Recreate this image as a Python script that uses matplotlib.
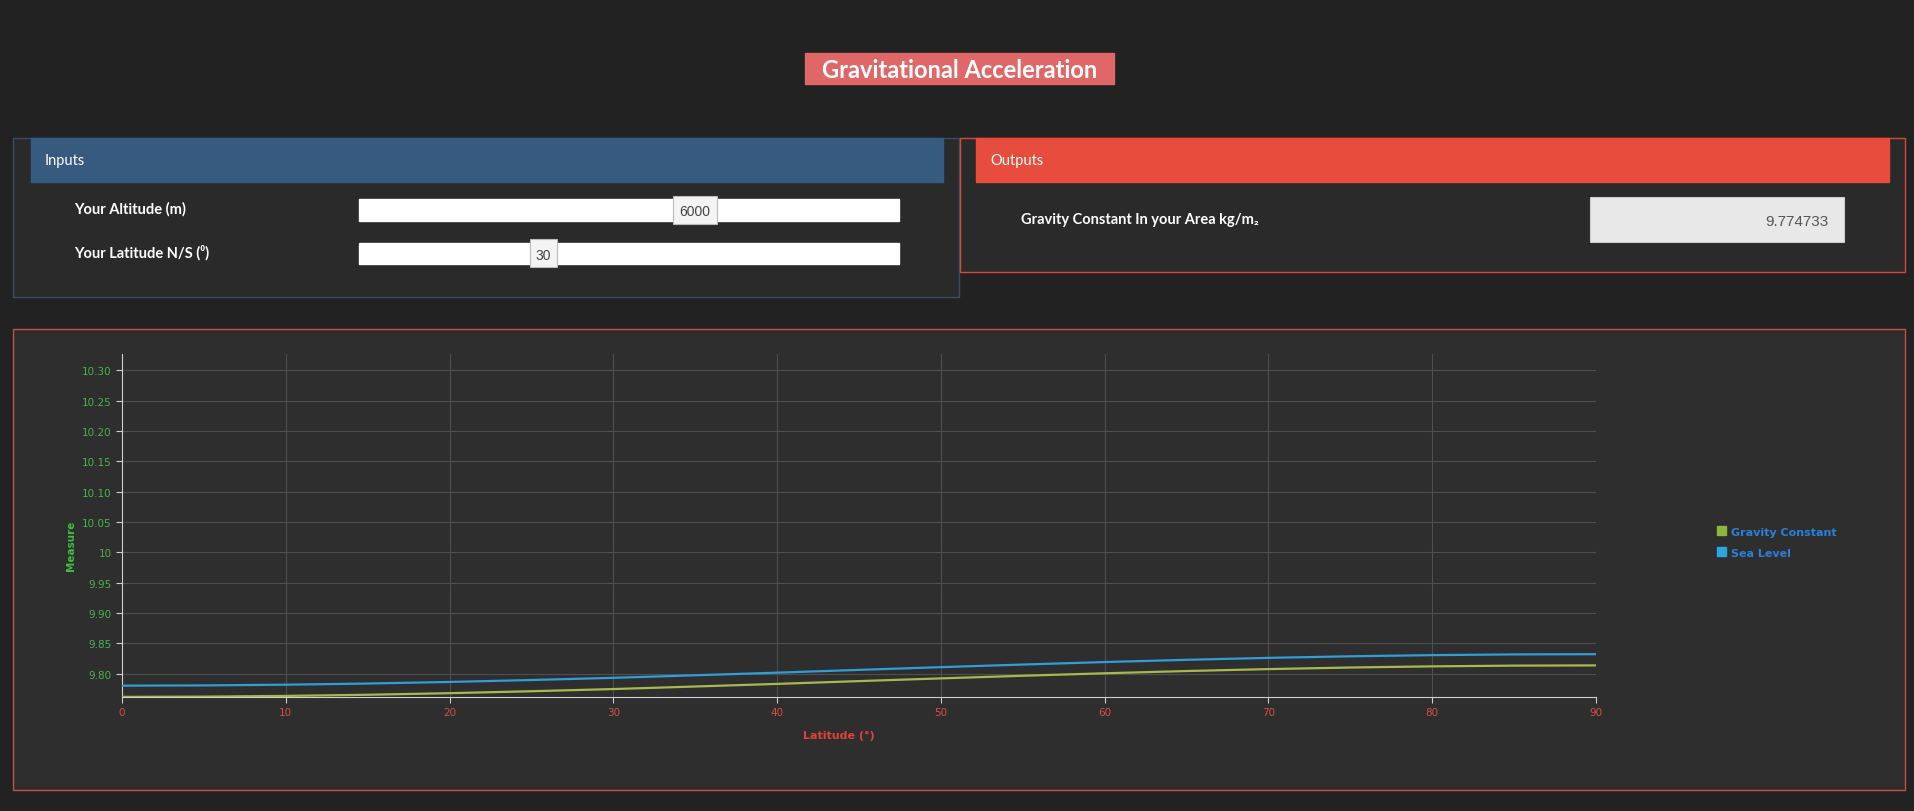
import matplotlib.pyplot as plt
from matplotlib.patches import Rectangle, Patch

# data (latitude in degrees, gravity in m/s^2)
latitude = [0, 5, 10, 15, 20, 25, 30, 35, 40, 45, 50, 55, 60, 65, 70, 75, 80, 85, 90]
sea_level = [9.7803, 9.7807, 9.7819, 9.7838, 9.7864, 9.7896, 9.7932, 9.7974, 9.8017, 9.8063,
             9.8108, 9.8151, 9.8192, 9.8229, 9.8261, 9.8287, 9.8306, 9.8318, 9.8322]
gravity_constant = [9.7618, 9.7622, 9.7634, 9.7653, 9.7679, 9.7711, 9.7747, 9.7789, 9.7832, 9.7878,
                    9.7923, 9.7966, 9.8007, 9.8044, 9.8076, 9.8102, 9.8121, 9.8133, 9.8137]
y_ticks = [9.80, 9.85, 9.90, 9.95, 10.00, 10.05, 10.10, 10.15, 10.20, 10.25, 10.30]
y_tick_labels = ['9.80', '9.85', '9.90', '9.95', '10', '10.05', '10.10', '10.15', '10.20', '10.25', '10.30']
x_ticks = [0, 10, 20, 30, 40, 50, 60, 70, 80, 90]
series_names = ['Gravity Constant', 'Sea Level']
altitude_value = '6000'
latitude_value = '30'
output_value = '9.774733'

W, H = 1914, 812
fig = plt.figure(figsize=(W / 100, H / 100), dpi=100)
fig.patch.set_facecolor('#222222')

# page layer in pixel coordinates
page = fig.add_axes([0, 0, 1, 1])
page.set_xlim(0, W)
page.set_ylim(H, 0)
page.axis('off')


def box(x0, y0, x1, y1, face, edge=None, lw=1.0, z=1):
    page.add_patch(Rectangle((x0, y0), x1 - x0, y1 - y0, facecolor=face,
                             edgecolor=edge if edge else face, linewidth=lw, zorder=z))


lato = 'Lato'

# title
box(805, 54, 1114, 85, '#e06767')
page.text(959.5, 70, 'Gravitational Acceleration', color='white', fontsize=17,
          fontweight='bold', family=lato, ha='center', va='center', zorder=3)

# inputs panel
box(13, 139, 959, 298, '#2a2a2a', '#3a4e63', lw=1.0)
box(31, 139, 943, 183, '#375a7f', z=2)
page.text(45, 161, 'Inputs', color='white', fontsize=10.5, family=lato, va='center', zorder=3)
page.text(74, 209, 'Your Altitude (m)', color='white', fontsize=10.5, fontweight='bold',
          family=lato, va='center', zorder=3)
page.text(74, 253, 'Your Latitude N/S (⁰)', color='white', fontsize=10.5, fontweight='bold',
          family=lato, va='center', zorder=3)
box(359, 200, 899, 222, 'white', z=2)
box(359, 244, 899, 265, 'white', z=2)
box(673, 197, 717, 225, '#f4f4f4', '#bbbbbb', lw=0.8, z=3)
page.text(695, 212, altitude_value, color='#444444', fontsize=10, family='Liberation Sans',
          ha='center', va='center', zorder=4)
box(530, 240, 557, 268, '#f4f4f4', '#bbbbbb', lw=0.8, z=3)
page.text(543.5, 256, latitude_value, color='#444444', fontsize=10, family='Liberation Sans',
          ha='center', va='center', zorder=4)

# outputs panel
box(960, 139, 1905, 273, '#2a2a2a', '#d9473a', lw=1.0)
box(976, 139, 1889, 183, '#e74c3c', z=2)
page.text(990, 161, 'Outputs', color='white', fontsize=10.5, family=lato, va='center', zorder=3)
page.text(1021, 220, 'Gravity Constant In your Area kg/m₂', color='white', fontsize=10.5,
          fontweight='bold', family=lato, va='center', zorder=3)
box(1590, 198, 1844, 243, '#e8e8e8', '#cccccc', lw=0.8, z=2)
page.text(1829, 222, output_value, color='#555555', fontsize=11, family='Liberation Sans',
          ha='right', va='center', zorder=3)

# chart panel
box(13, 330, 1905, 791, '#2e2e2e', '#c25248', lw=1.0)

ax = fig.add_axes([122 / W, 1 - 698 / H, (1596 - 122) / W, (698 - 355) / H])
ax.patch.set_alpha(0)
ax.plot(latitude, gravity_constant, color='#a9b84e', lw=1.6, zorder=3)
ax.plot(latitude, sea_level, color='#2f9fd6', lw=1.6, zorder=3)
ax.set_xlim(0, 90)
ax.set_ylim(9.7616, 10.327)
ax.set_xticks(x_ticks)
ax.set_xticklabels([str(v) for v in x_ticks])
ax.set_yticks(y_ticks)
ax.set_yticklabels(y_tick_labels)
ax.grid(True, color='#4f4f4f', linewidth=0.8)
for s in ['top', 'right']:
    ax.spines[s].set_visible(False)
for s in ['left', 'bottom']:
    ax.spines[s].set_color('#cfcfcf')
    ax.spines[s].set_linewidth(0.8)
ax.tick_params(axis='y', colors='#cfcfcf', labelcolor='#4bb34b', labelsize=7.5, length=4, width=0.8)
ax.tick_params(axis='x', colors='#cfcfcf', labelcolor='#d9503f', labelsize=7.5, length=4, width=0.8)
ax.set_ylabel('Measure', color='#3fbf3f', fontsize=7.5, fontweight='bold', labelpad=4)
ax.set_xlabel('Latitude (°)', color='#e0413a', fontsize=8, fontweight='bold', labelpad=9)
ax.xaxis.label.set_x(0.4864)
ax.yaxis.label.set_y(0.443)

handles = [Patch(facecolor='#8bb83a', edgecolor='#8bb83a'),
           Patch(facecolor='#2ba6df', edgecolor='#2ba6df')]
leg = ax.legend(handles, series_names, loc='center left', bbox_to_anchor=(1.078, 0.452),
                frameon=False, handlelength=0.85, handleheight=0.85, handletextpad=0.45,
                labelspacing=0.95, borderpad=0, prop={'size': 8, 'weight': 'bold'})
for t in leg.get_texts():
    t.set_color('#2a7fd8')

fig.savefig('out.png', dpi=100, facecolor=fig.get_facecolor())
